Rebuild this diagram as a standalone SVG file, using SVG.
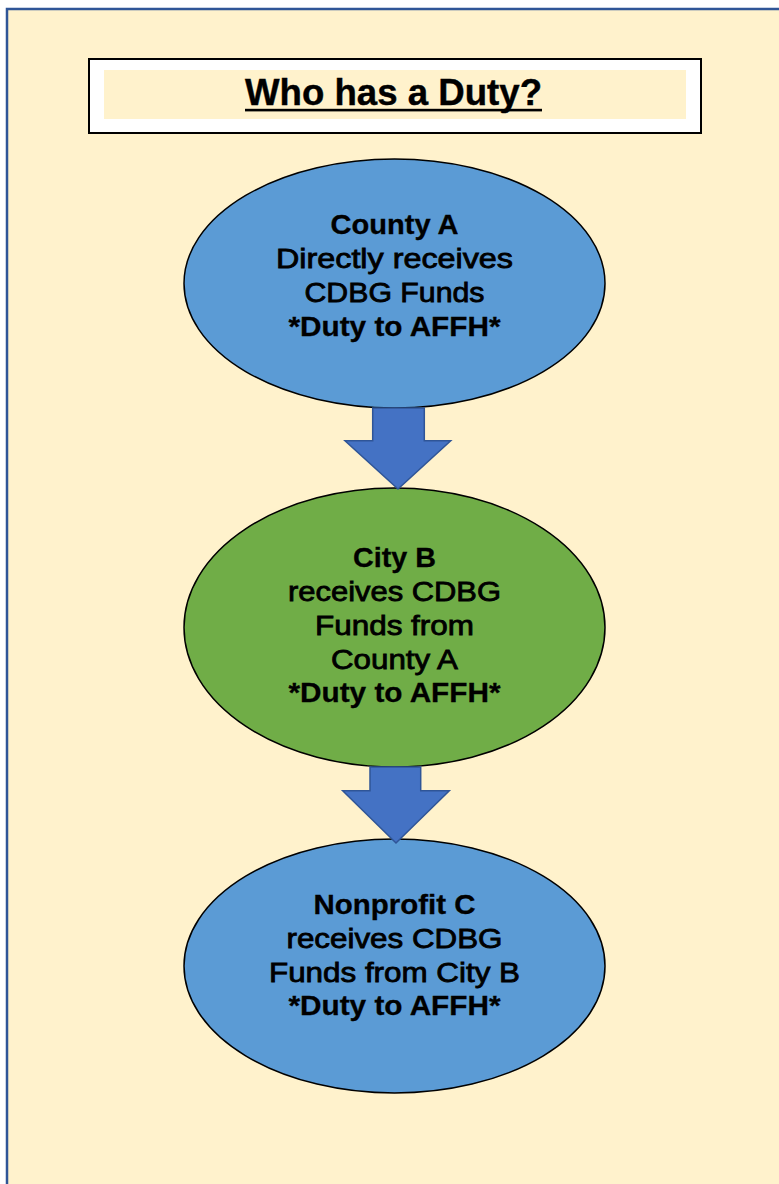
<svg xmlns="http://www.w3.org/2000/svg" width="779" height="1184" viewBox="0 0 779 1184">
<style>
.t{font-family:"Liberation Sans",Arial,sans-serif;font-size:27px;fill:#000;text-anchor:middle}
.r{stroke:#000;stroke-width:0.8}
.b{font-weight:bold;stroke:#000;stroke-width:0.3}
.node{stroke:#000;stroke-width:1.5}
.arrow{fill:#4472C4;stroke:#2F5597;stroke-width:1.5;stroke-linejoin:miter}
</style>
<rect x="0" y="0" width="779" height="1184" fill="#fff"/>
<rect x="7" y="9" width="790" height="1190" fill="#FFF2CC" stroke="#2F5597" stroke-width="2.5"/>
<g id="title">
<rect x="89" y="59" width="612" height="74" fill="#fff" stroke="#000" stroke-width="2"/>
<rect x="104" y="70" width="582" height="49" fill="#FFF2CC"/>
<text x="393.5" y="105" font-family="'Liberation Sans',Arial,sans-serif" font-size="36" font-weight="bold" text-anchor="middle" stroke="#000" stroke-width="0.4" textLength="297" lengthAdjust="spacingAndGlyphs">Who has a Duty?</text>
<rect x="245" y="108.8" width="297" height="2.6" fill="#000"/>
</g>
<g id="countyA">
<ellipse class="node" cx="394.5" cy="283.5" rx="210.5" ry="124.5" fill="#5B9BD5"/>
<text class="t b" x="394.5" y="233.5" textLength="128" lengthAdjust="spacingAndGlyphs">County A</text>
<text class="t r" x="394.5" y="267.5" textLength="237" lengthAdjust="spacingAndGlyphs">Directly receives</text>
<text class="t r" x="394.5" y="302" textLength="180" lengthAdjust="spacingAndGlyphs">CDBG Funds</text>
<text class="t b" x="394.5" y="336" textLength="212" lengthAdjust="spacingAndGlyphs">*Duty to AFFH*</text>
</g>
<g id="cityB">
<ellipse class="node" cx="394.5" cy="627.5" rx="210.5" ry="139.5" fill="#70AD47"/>
<text class="t b" x="394.5" y="567" textLength="83" lengthAdjust="spacingAndGlyphs">City B</text>
<text class="t r" x="394.5" y="601" textLength="213" lengthAdjust="spacingAndGlyphs">receives CDBG</text>
<text class="t r" x="394.5" y="634.5" textLength="159" lengthAdjust="spacingAndGlyphs">Funds from</text>
<text class="t r" x="394.5" y="668.5" textLength="127" lengthAdjust="spacingAndGlyphs">County A</text>
<text class="t b" x="394.5" y="702" textLength="212" lengthAdjust="spacingAndGlyphs">*Duty to AFFH*</text>
</g>
<g id="nonprofitC">
<ellipse class="node" cx="394.5" cy="966" rx="210.5" ry="127" fill="#5B9BD5"/>
<text class="t b" x="394.5" y="914" textLength="162" lengthAdjust="spacingAndGlyphs">Nonprofit C</text>
<text class="t r" x="394.5" y="947.5" textLength="216" lengthAdjust="spacingAndGlyphs">receives CDBG</text>
<text class="t r" x="394.5" y="981.5" textLength="251" lengthAdjust="spacingAndGlyphs">Funds from City B</text>
<text class="t b" x="394.5" y="1015" textLength="212" lengthAdjust="spacingAndGlyphs">*Duty to AFFH*</text>
</g>
<g id="connectors">
<path class="arrow" d="M372.7,408 L424.3,408 L424.3,440.7 L450.7,440.7 L398,489 L345,440.7 L372.7,440.7 Z"/>
<path class="arrow" d="M370,767 L420.7,767 L420.7,790.7 L449.3,790.7 L396,843 L342.7,790.7 L370,790.7 Z"/>
</g>
</svg>
